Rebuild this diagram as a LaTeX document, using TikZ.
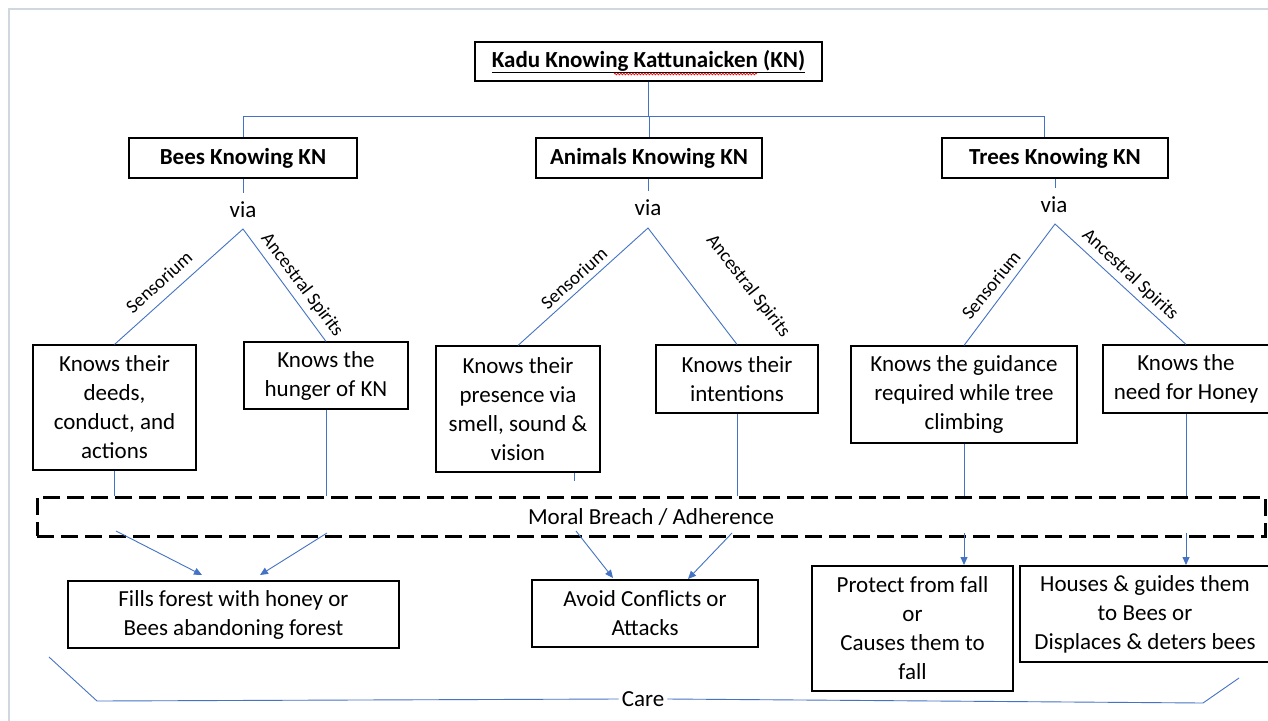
\documentclass[tikz,border=0pt]{standalone}
\usepackage{fontspec}
\setmainfont{Carlito}
\usetikzlibrary{arrows.meta,decorations.pathmorphing}
\definecolor{lineblue}{RGB}{68,114,196}
\definecolor{framegray}{RGB}{208,215,222}
\begin{document}
\begin{tikzpicture}[x=1pt,y=-1pt,
  box/.style={draw=black,line width=1.1pt,inner sep=0pt,align=center,font=\fontsize{23}{29}\selectfont},
  hdr/.style={box,font=\fontsize{23}{29}\selectfont\bfseries},
  conn/.style={draw=lineblue,line width=0.9pt},
  arr/.style={conn,-{Triangle[length=8pt,width=7pt]}},
  vialbl/.style={font=\fontsize{23}{29}\selectfont,inner sep=0pt,text height=24pt,text depth=0pt,anchor=base},
  edgelbl/.style={font=\fontsize{19}{22}\selectfont,inner sep=0pt},
  plain/.style={font=\fontsize{23}{29}\selectfont,inner sep=3pt},
]
\useasboundingbox (0,0) rectangle (1268,720);
\fill[white] (0,0) rectangle (1268,720);
\draw[framegray,line width=2.5pt] (9,722) -- (9,9) -- (1270,9);

% title and first level
\node[hdr,minimum width=347pt,minimum height=39pt] (kn) at (648.5,61.5) {\underline{Kadu Knowing Kattunaicken (KN)}};
\draw[red,line width=0.7pt,decorate,decoration={snake,amplitude=0.9pt,segment length=3pt}] (614,74) -- (757,74);
\node[hdr,minimum width=228pt,minimum height=40pt] (bees) at (243,158) {Bees Knowing KN};
\node[hdr,minimum width=226pt,minimum height=40pt] (animals) at (649,158) {Animals Knowing KN};
\node[hdr,minimum width=226pt,minimum height=40pt] (trees) at (1055,158) {Trees Knowing KN};
\coordinate (tj) at (1044,116);
\draw[conn] (kn.south) -- (kn.south |- tj);
\draw[conn] (bees.north) |- (tj) -- (tj |- trees.north);
\draw[conn] (animals.north) -- (animals.north |- tj);

% via
\node[vialbl] (v1) at (243,217) {via};
\node[vialbl] (v2) at (648,215) {via};
\node[vialbl] (v3) at (1054,212) {via};
\draw[conn] (bees.south) -- (bees.south |- v1.north);
\draw[conn] (v2.north |- animals.south) -- (v2.north);
\draw[conn] (trees.south) -- (trees.south |- v3.north);
\coordinate (a1) at (243,229);
\coordinate (a2) at (648,228);
\coordinate (a3) at (1055,224);

% knowing boxes
\node[box,minimum width=163pt,minimum height=125pt] (b1) at (114.5,407.5) {Knows their\\deeds,\\conduct, and\\actions};
\node[box,minimum width=164pt,minimum height=67pt] (b2) at (326,375.5) {Knows the\\hunger of KN};
\node[box,minimum width=164pt,minimum height=126pt] (b3) at (518,409) {Knows their\\presence via\\smell, sound \&\\vision};
\node[box,minimum width=162pt,minimum height=68pt] (b4) at (737,379) {Knows their\\intentions};
\node[box,minimum width=226pt,minimum height=97pt] (b5) at (964,394.5) {Knows the guidance\\required while tree\\climbing};
\node[box,minimum width=166pt,minimum height=68pt] (b6) at (1186,379) {Knows the\\need for Honey};

\draw[conn] (b1.north) -- (a1) -- (b2.north);
\draw[conn] (b3.north) -- (a2) -- (b4.north);
\draw[conn] (b5.north) -- (a3) -- (b6.north);

\node[edgelbl,rotate=42] (l1) at (159,282) {Sensorium};
\node[edgelbl,rotate=-53] (l2) at (302,285) {Ancestral Spirits};
\node[edgelbl,rotate=42] (l3) at (574,278) {Sensorium};
\node[edgelbl,rotate=-52] (l4) at (748,286) {Ancestral Spirits};
\node[edgelbl,rotate=51] (l5) at (991,285) {Sensorium};
\node[edgelbl,rotate=-43] (l6) at (1130,275) {Ancestral Spirits};

% moral breach box
\node[draw=black,line width=3pt,dash pattern=on 17pt off 7pt,minimum width=1228pt,minimum height=39pt,inner sep=0pt,font=\fontsize{23}{29}\selectfont] (moral) at (651,516.5) {Moral Breach / Adherence};
\draw[conn] (b1.south) -- (b1.south |- moral.north);
\draw[conn] (b2.south) -- (b2.south |- moral.north);
\coordinate (s3) at (574,481);
\draw[conn] (b3.south -| s3) -- (s3);
\draw[conn] (b4.south) -- (b4.south |- moral.north);
\draw[conn] (b5.south) -- (b5.south |- moral.north);
\draw[conn] (b6.south) -- (b6.south |- moral.north);

% outcome boxes
\node[box,minimum width=331pt,minimum height=67pt] (c1) at (233.5,614.5) {Fills forest with honey or\\Bees abandoning forest};
\node[box,minimum width=226pt,minimum height=67pt] (c2) at (645,613.5) {Avoid Conflicts or\\Attacks};
\node[box,minimum width=201pt,minimum height=125pt] (c3) at (912.5,628.5) {Protect from fall\\or\\Causes them to\\fall};
\node[box,minimum width=250pt,minimum height=96pt] (c4) at (1145,614) {Houses \& guides them\\to Bees or\\Displaces \& deters bees};

\coordinate (m1) at (116,531); \coordinate (e1) at (202,575);
\coordinate (m2) at (327,533); \coordinate (e2) at (260,575);
\coordinate (m3) at (576,531); \coordinate (e3) at (613,578);
\coordinate (m4) at (732,533); \coordinate (e4) at (688,579);
\coordinate (m5) at (964,533); \coordinate (e5) at (964,565);
\coordinate (m6) at (1186,533); \coordinate (e6) at (1186,565);
\draw[arr] (m1) -- (e1);
\draw[arr] (m2) -- (e2);
\draw[arr] (m3) -- (e3);
\draw[arr] (m4) -- (e4);
\draw[arr] (m5) -- (e5);
\draw[arr] (m6) -- (e6);

% care bracket
\node[plain] (care) at (643,699) {Care};
\coordinate (k1) at (49,657);
\coordinate (k2) at (97,701);
\coordinate (k3) at (1203,703);
\coordinate (k4) at (1239,678);
\draw[conn] (k1) -- (k2) -- (care.west);
\draw[conn] (care.east) -- (k3) -- (k4);
\end{tikzpicture}
\end{document}
